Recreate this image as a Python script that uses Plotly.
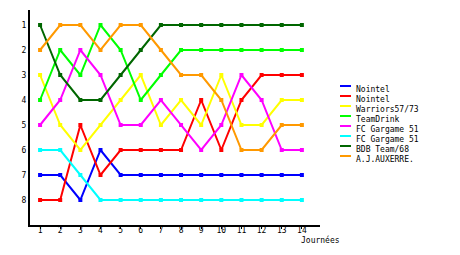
import plotly.graph_objects as go

journees = list(range(1, 15))
names = ["Nointel", "Nointel", "Warriors57/73", "TeamDrink", "FC Gargame 51",
         "FC Gargame 51", "BDB Team/68", "A.J.AUXERRE."]
colors = ["#0000ff", "#ff0000", "#ffff00", "#00ff00", "#ff00ff",
          "#00ffff", "#006600", "#ff9900"]

nointel_a = [7, 7, 8, 6, 7, 7, 7, 7, 7, 7, 7, 7, 7, 7]
nointel_b = [8, 8, 5, 7, 6, 6, 6, 6, 4, 6, 4, 3, 3, 3]
warriors = [3, 5, 6, 5, 4, 3, 5, 4, 5, 3, 5, 5, 4, 4]
teamdrink = [4, 2, 3, 1, 2, 4, 3, 2, 2, 2, 2, 2, 2, 2]
gargame_a = [5, 4, 2, 3, 5, 5, 4, 5, 6, 5, 3, 4, 6, 6]
gargame_b = [6, 6, 7, 8, 8, 8, 8, 8, 8, 8, 8, 8, 8, 8]
bdb = [1, 3, 4, 4, 3, 2, 1, 1, 1, 1, 1, 1, 1, 1]
auxerre = [2, 1, 1, 2, 1, 1, 2, 3, 3, 4, 6, 6, 5, 5]

series = [nointel_a, nointel_b, warriors, teamdrink, gargame_a, gargame_b, bdb, auxerre]

FONT = "DejaVu Sans Mono"
W, H = 460, 255
ML, MR, MT, MB = 30, 140, 10, 30
PW, PH = W - ML - MR, H - MT - MB

fig = go.Figure()
for name, col, ys in zip(names, colors, series):
    fig.add_trace(go.Scatter(
        x=journees, y=ys, name=name, mode="lines+markers",
        line=dict(color=col, width=2),
        marker=dict(symbol="square", size=4, color=col),
        showlegend=False,
    ))

def px(xp):
    return (xp - ML) / PW

def py(yp):
    return (H - MB - yp) / PH

shapes = []
annotations = []
for i, (name, col) in enumerate(zip(names, colors)):
    ly = 86 + 10 * i
    shapes.append(dict(type="line", xref="paper", yref="paper",
                       x0=px(340), x1=px(351), y0=py(ly), y1=py(ly),
                       line=dict(color=col, width=2)))
    annotations.append(dict(text=name, xref="paper", yref="paper",
                            x=px(354), y=py(ly + 3.3), xanchor="left", yanchor="middle",
                            showarrow=False, font=dict(family=FONT, size=8, color="black")))

annotations.append(dict(text="Journées", xref="paper", yref="paper",
                        x=px(299), y=py(240), xanchor="left", yanchor="middle",
                        showarrow=False, font=dict(family=FONT, size=8, color="black")))

fig.update_layout(
    width=W, height=H,
    margin=dict(l=ML, r=MR, t=MT, b=MB),
    paper_bgcolor="white", plot_bgcolor="white",
    font=dict(family=FONT, size=8, color="black"),
    shapes=shapes, annotations=annotations,
    xaxis=dict(range=[0.5, 14.9], tickmode="array", tickvals=journees,
               showgrid=False, zeroline=False, showline=True, linecolor="black",
               linewidth=2, ticks="outside", ticklen=2, tickcolor="black",
               ticklabelstandoff=-6,
               tickfont=dict(family=FONT, size=8)),
    yaxis=dict(range=[9, 0.4], tickmode="array", tickvals=list(range(1, 9)),
               showgrid=False, zeroline=False, showline=True, linecolor="black",
               linewidth=2, ticks="", tickfont=dict(family=FONT, size=8)),
)

fig.write_html("out.html")
